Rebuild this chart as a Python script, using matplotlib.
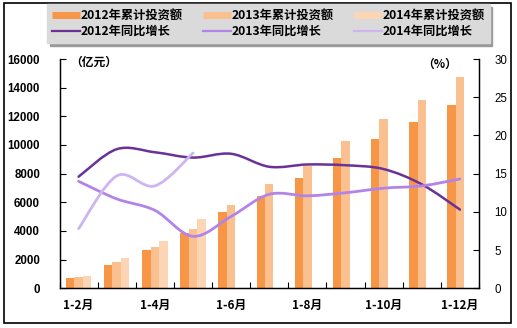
import matplotlib
matplotlib.use("Agg")
import matplotlib.pyplot as plt
import numpy as np
from matplotlib.path import Path
from matplotlib.patches import PathPatch, Rectangle
from matplotlib.lines import Line2D

plt.rcParams['font.family'] = ['Noto Sans CJK SC', 'DejaVu Sans']

# ---- data ----
categories = ['1-2月', '1-3月', '1-4月', '1-5月', '1-6月', '1-7月',
              '1-8月', '1-9月', '1-10月', '1-11月', '1-12月']
shown_labels = ['1-2月', '', '1-4月', '', '1-6月', '', '1-8月', '', '1-10月', '', '1-12月']

inv_2012 = [717, 1600, 2665, 3826, 5357, 6470, 7722, 9113, 10435, 11617, 12823]
inv_2013 = [765, 1809, 2852, 4104, 5843, 7304, 8557, 10296, 11826, 13148, 14770]
inv_2014 = [835, 2087, 3290, 4870]

growth_2012 = [14.6, 18.2, 17.8, 17.1, 17.6, 15.9, 16.2, 16.1, 15.6, 13.6, 10.3]
growth_2013 = [14.0, 11.7, 10.2, 6.8, 9.4, 12.3, 12.1, 12.5, 13.1, 13.4, 14.3]
growth_2014 = [7.8, 14.7, 13.4, 17.7]

left_ticks = [0, 2000, 4000, 6000, 8000, 10000, 12000, 14000, 16000]
right_ticks = [0, 5, 10, 15, 20, 25, 30]

bar_labels = ['2012年累计投资额', '2013年累计投资额', '2014年累计投资额']
line_labels = ['2012年同比增长', '2013年同比增长', '2014年同比增长']

bar_colors = ['#F79646', '#FAC090', '#FCD5B5']
line_colors = ['#6A3196', '#B384E8', '#CDB4F2']


def smooth_path(xs, ys):
    """Cubic Bezier path through the points (Catmull-Rom style smoothing)."""
    pts = np.column_stack([xs, ys]).astype(float)
    n = len(pts)
    verts = [pts[0]]
    codes = [Path.MOVETO]
    for i in range(n - 1):
        p0 = pts[i - 1] if i > 0 else pts[i]
        p1 = pts[i]
        p2 = pts[i + 1]
        p3 = pts[i + 2] if i + 2 < n else pts[i + 1]
        c1 = p1 + (p2 - p0) / 6.0
        c2 = p2 - (p3 - p1) / 6.0
        verts += [c1, c2, p2]
        codes += [Path.CURVE4] * 3
    return Path(verts, codes)


W, H = 517, 328
fig = plt.figure(figsize=(W / 100, H / 100), dpi=100)
fig.patch.set_facecolor('white')

ax_l, ax_r, ax_b, ax_t = 59.5, 479.0, 288.3, 59.0
ax = fig.add_axes([ax_l / W, 1 - ax_b / H, (ax_r - ax_l) / W, (ax_b - ax_t) / H])
ax2 = ax.twinx()

x = np.arange(len(categories))
bw = 0.222
ax.bar(x - bw, inv_2012, width=bw, color=bar_colors[0], zorder=2)
ax.bar(x, inv_2013, width=bw, color=bar_colors[1], zorder=2)
ax.bar(np.arange(len(inv_2014)) + bw, inv_2014, width=bw, color=bar_colors[2], zorder=2)

for g, c, w in zip([growth_2012, growth_2013, growth_2014], line_colors, [1.8, 2.0, 2.0]):
    xs = np.arange(len(g))
    ax2.add_patch(PathPatch(smooth_path(xs, g), facecolor='none', edgecolor=c,
                            lw=w, capstyle='round', joinstyle='round', zorder=3))

ax.set_xlim(-0.5, len(categories) - 0.5)
ax.set_ylim(0, 16000)
ax2.set_ylim(0, 30)

ax.set_yticks(left_ticks)
ax.set_yticklabels([str(v) for v in left_ticks], family='Liberation Sans',
                   fontweight='bold', fontsize=8.3)
ax2.set_yticks(right_ticks)
ax2.set_yticklabels([str(v) for v in right_ticks], family='Liberation Sans',
                    fontsize=8.3)

# category boundaries carry the tick marks, centres carry the labels
ax.set_xticks(np.arange(-0.5, len(categories), 1.0))
ax.set_xticklabels([])
ax.set_xticks(x, minor=True)
ax.set_xticklabels(shown_labels, minor=True, fontweight='bold', fontsize=8.5)
ax.tick_params(axis='x', which='major', direction='in', length=4, width=0.8)
ax.tick_params(axis='x', which='minor', length=0, pad=8)
ax.tick_params(axis='y', direction='in', length=4, width=0.8, pad=14)
ax2.tick_params(axis='y', direction='in', length=4, width=0.8, pad=11)

for a in (ax, ax2):
    a.spines['top'].set_visible(False)
    for s in ('left', 'right', 'bottom'):
        a.spines[s].set_linewidth(0.9)
ax.set_facecolor('none')
ax2.patch.set_visible(False)
ax.set_zorder(1)
ax2.set_zorder(2)

ax.text(0.025, 0.985, '（亿元）', transform=ax.transAxes, fontsize=8.5,
        fontweight='bold', ha='left', va='center')
ax2.text(0.905, 0.975, '（%）', transform=ax.transAxes, fontsize=8.5,
         fontweight='bold', ha='center', va='center')

# legend
handles = []
labels = []
for i in range(3):
    handles.append(Line2D([], [], color=bar_colors[i], lw=5, solid_capstyle='butt'))
    labels.append(bar_labels[i])
    handles.append(Line2D([], [], color=line_colors[i], lw=1.6))
    labels.append(line_labels[i])
leg = fig.legend(handles, labels, ncol=3, loc='upper left',
                 bbox_to_anchor=(47 / W, 1 - 4 / H), borderaxespad=0,
                 prop={'size': 8.8, 'weight': 'bold'},
                 handlelength=2.3, handletextpad=0.0, columnspacing=1.7,
                 labelspacing=0.22, borderpad=0.42, frameon=True,
                 fancybox=False, shadow={'color': '#9a9a9a', 'alpha': 1},
                 facecolor='#DADADA', edgecolor='#DADADA', framealpha=1)

# outer frame
fig.patches.append(Rectangle((4 / W, 1 - 322.7 / H), 507 / W, 320 / H,
                             transform=fig.transFigure, fill=False,
                             edgecolor='black', lw=1.2))

fig.savefig('out.png', dpi=100)
